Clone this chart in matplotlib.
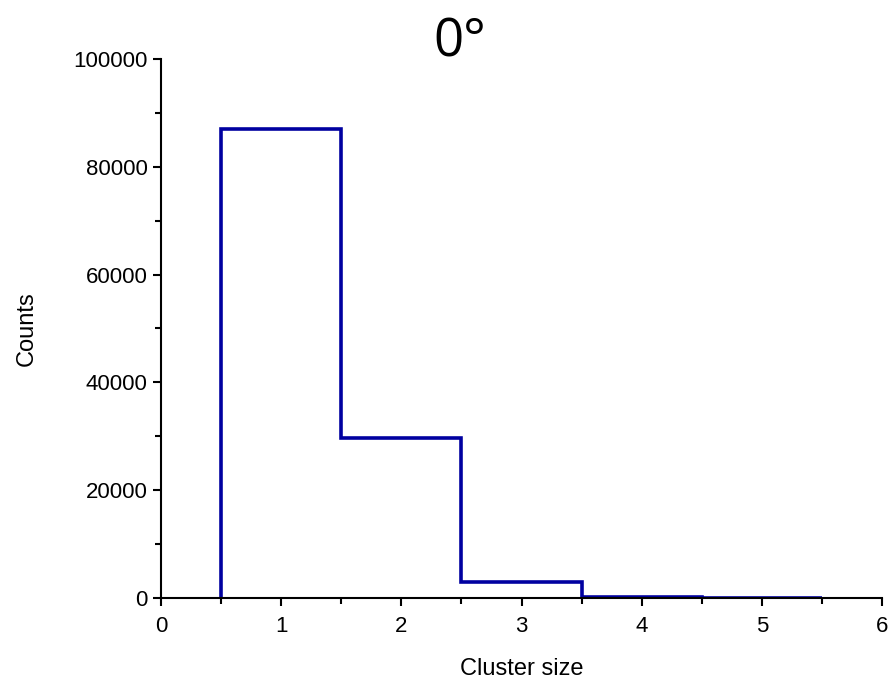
import numpy as np
import matplotlib.pyplot as plt
from matplotlib.ticker import MultipleLocator

plt.rcParams['font.family'] = ['Liberation Sans', 'DejaVu Sans']

# histogram of cluster sizes
cluster_size = [1, 2, 3, 4, 5]
counts = [87000, 29700, 2950, 250, 40]

edges = np.append(np.array(cluster_size) - 0.5, cluster_size[-1] + 0.5)

fig = plt.figure(figsize=(8.93, 6.83), dpi=100)
ax = fig.add_axes([0.1803, 0.1245, 0.8074, 0.7891])

ax.stairs(counts, edges, baseline=0, color='#0000a0', lw=2.6)

ax.set_xlim(0, 6)
ax.set_ylim(0, 100000)
ax.xaxis.set_major_locator(MultipleLocator(1))
ax.xaxis.set_minor_locator(MultipleLocator(0.5))
ax.yaxis.set_major_locator(MultipleLocator(20000))
ax.yaxis.set_minor_locator(MultipleLocator(10000))

for s in ['top', 'right']:
    ax.spines[s].set_visible(False)
for s in ['left', 'bottom']:
    ax.spines[s].set_linewidth(1.5)

ax.tick_params(which='major', direction='out', length=6, width=1.5, labelsize=16)
ax.tick_params(which='minor', direction='out', length=4, width=1.5)
ax.tick_params(axis='x', which='major', pad=7)

ax.set_xlabel('Cluster size', fontsize=17, labelpad=15)
ax.set_ylabel('Counts', fontsize=17, labelpad=26)
fig.text(460 / 893, 1 - 43 / 683, '0°', fontsize=38, ha='center', va='center',
         family=['Open Sans', 'DejaVu Sans'])

fig.savefig('out.png', dpi=100)
